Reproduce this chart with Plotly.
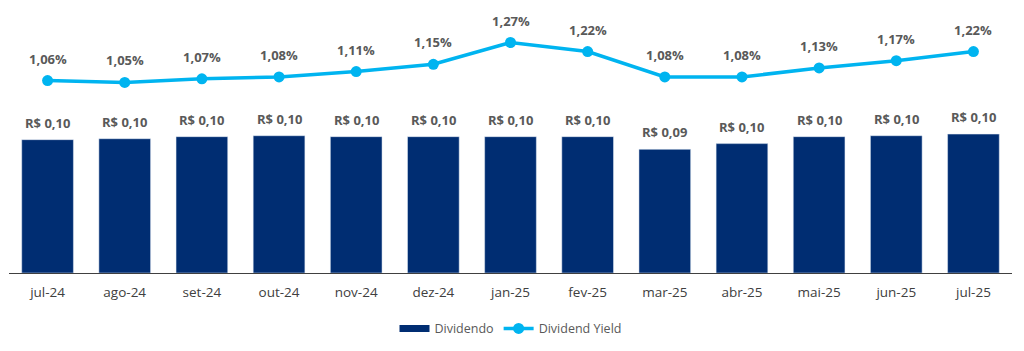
import plotly.graph_objects as go

categories = ["jul-24", "ago-24", "set-24", "out-24", "nov-24", "dez-24", "jan-25",
              "fev-25", "mar-25", "abr-25", "mai-25", "jun-25", "jul-25"]
dividendo = [0.0979, 0.0986, 0.1001, 0.1008, 0.1001, 0.1001, 0.1001,
             0.1001, 0.0908, 0.0950, 0.1001, 0.1008, 0.1020]
dividend_yield = [1.06, 1.05, 1.07, 1.08, 1.11, 1.15, 1.27,
                  1.22, 1.08, 1.08, 1.13, 1.17, 1.22]

NAVY = "#002D72"
CYAN = "#00B4F0"
FONT = "Open Sans"

fig = go.Figure()
fig.add_trace(go.Bar(
    x=categories, y=dividendo, name="Dividendo", marker_color=NAVY,
    showlegend=False, yaxis="y", hoverinfo="skip"))
fig.add_trace(go.Scatter(
    x=categories, y=dividend_yield, name="Dividend Yield", yaxis="y2",
    mode="lines+markers", line=dict(color=CYAN, width=3.5),
    marker=dict(color=CYAN, size=11), showlegend=True))
# legend-only entry for the bar series (wide bar swatch)
fig.add_trace(go.Scatter(
    x=[None], y=[None], name="Dividendo", mode="lines",
    line=dict(color=NAVY, width=7), legendrank=1, showlegend=True))

annotations = []
for c, v in zip(categories, dividendo):
    annotations.append(dict(
        x=c, y=v, xref="x", yref="y", yanchor="middle", yshift=17,
        text="R$ " + f"{v:.2f}".replace(".", ","), showarrow=False,
        font=dict(family=FONT, size=13, color="#595959", weight="bold")))
for c, v in zip(categories, dividend_yield):
    annotations.append(dict(
        x=c, y=v, xref="x", yref="y2", yanchor="middle", yshift=22,
        text=f"{v:.2f}".replace(".", ",") + "%", showarrow=False,
        font=dict(family=FONT, size=13, color="#595959", weight="bold")))

fig.update_layout(
    width=1024, height=351,
    margin=dict(l=9, r=12, t=10, b=78, autoexpand=False),
    paper_bgcolor="white", plot_bgcolor="white",
    bargap=0.33,
    font=dict(family=FONT, size=13, color="#404040"),
    xaxis=dict(showline=True, linecolor="#404040", linewidth=1, showgrid=False,
               range=[-0.5, len(categories) - 0.5], automargin=False,
               ticks="", ticklabelstandoff=7,
               tickfont=dict(family=FONT, size=13.5, color="#404040"),
               fixedrange=True),
    yaxis=dict(range=[0, 263 / 1362], visible=False, showgrid=False),
    yaxis2=dict(range=[0, 263 / 181.5], visible=False, showgrid=False,
                overlaying="y", side="right"),
    legend=dict(orientation="h", x=0.5, xanchor="center",
                yref="container", y=0.106, yanchor="top",
                font=dict(family=FONT, size=12.5, color="#595959"),
                itemwidth=30, traceorder="normal"),
    annotations=annotations,
)

fig.write_html("out.html")
